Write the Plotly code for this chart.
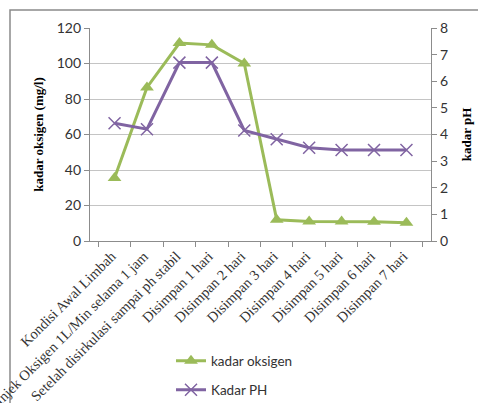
import plotly.graph_objects as go

# Sampling stages
categories = [
    "Kondisi Awal Limbah",
    "Injek Oksigen 1L/Min selama 1 jam",
    "Setelah disirkulasi sampai ph stabil",
    "Disimpan 1 hari",
    "Disimpan 2 hari",
    "Disimpan 3 hari",
    "Disimpan 4 hari",
    "Disimpan 5 hari",
    "Disimpan 6 hari",
    "Disimpan 7 hari",
]

# Dissolved oxygen (mg/l)
kadar_oksigen = [35.5, 86.5, 111.5, 110.5, 100, 12, 11, 11, 10.8, 10.3]

# pH
kadar_ph = [4.42, 4.2, 6.7, 6.7, 4.15, 3.82, 3.5, 3.42, 3.42, 3.42]

oy_ticks = [0, 20, 40, 60, 80, 100, 120]
ph_ticks = [0, 1, 2, 3, 4, 5, 6, 7, 8]

GREEN = "#9BBB59"
PURPLE = "#8064A2"
AXIS = "#8c8c8c"
GRID = "#c4c4c4"
TEXT = "#333333"
SANS = "Lato, 'Open Sans', sans-serif"
SERIF = "'Liberation Serif', 'Times New Roman', serif"

fig = go.Figure()

fig.add_trace(go.Scatter(
    x=categories, y=kadar_oksigen, name="kadar oksigen",
    mode="lines+markers", showlegend=True,
    line=dict(color=GREEN, width=3),
    marker=dict(symbol="triangle-up", size=12, color=GREEN),
    yaxis="y", legend="legend",
))

fig.add_trace(go.Scatter(
    x=categories, y=kadar_ph, name="Kadar PH",
    mode="lines+markers", showlegend=True,
    line=dict(color=PURPLE, width=3),
    marker=dict(symbol="x-thin", size=12, color=PURPLE,
                line=dict(color=PURPLE, width=1.5)),
    yaxis="y2", legend="legend2",
))

L, R, T, B = 90, 47, 28, 162
W, H = 478, 403
pw, ph = W - L - R, H - T - B

legend_style = dict(
    xanchor="left", yanchor="middle", visible=True,
    bgcolor="rgba(0,0,0,0)", itemwidth=30,
    font=dict(family=SANS, size=13.5, color=TEXT),
)

fig.update_layout(
    width=W, height=H, showlegend=True,
    margin=dict(l=L, r=R, t=T, b=B, autoexpand=False),
    paper_bgcolor="white", plot_bgcolor="white",
    font=dict(family=SANS, size=14, color=TEXT),
    xaxis=dict(
        type="category", tickangle=-45, automargin=False,
        tickfont=dict(family=SERIF, size=14.5, color=TEXT),
        ticklabelstandoff=0, ticklabelshift=-3,
        showline=True, linecolor=AXIS, linewidth=1.3,
        ticks="outside", ticklen=5, tickcolor=AXIS, tickson="boundaries",
        showgrid=False,
    ),
    yaxis=dict(
        range=[0, 120], tickvals=oy_ticks, automargin=False,
        showgrid=True, gridcolor=GRID, gridwidth=1.3,
        showline=True, linecolor=AXIS, linewidth=1.3,
        ticks="outside", ticklen=5, tickcolor=AXIS,
        zeroline=False,
        title=dict(text="<b>kadar oksigen (mg/l)</b>",
                   font=dict(family=SERIF, size=13, color="black"),
                   standoff=10),
    ),
    yaxis2=dict(
        range=[0, 8], tickvals=ph_ticks, overlaying="y", side="right",
        automargin=False,
        showgrid=False, zeroline=False,
        showline=True, linecolor=AXIS, linewidth=1.3,
        ticks="outside", ticklen=5, tickcolor=AXIS,
        title=dict(text="<b>kadar pH</b>",
                   font=dict(family=SERIF, size=13, color="black"),
                   standoff=14),
    ),
    legend=dict(x=(171 - L) / pw, y=(H - B - 361) / ph, **legend_style),
    legend2=dict(x=(171 - L) / pw, y=(H - B - 390) / ph, **legend_style),
    shapes=[dict(
        type="rect", xref="paper", yref="paper",
        x0=(10 - L) / pw, x1=(490 - L) / pw,
        y0=-(420 - (H - B)) / ph, y1=1 + (T - 10) / ph,
        line=dict(color="#8a8a8a", width=1.5), layer="below",
    )],
)

fig.write_html("out.html")
